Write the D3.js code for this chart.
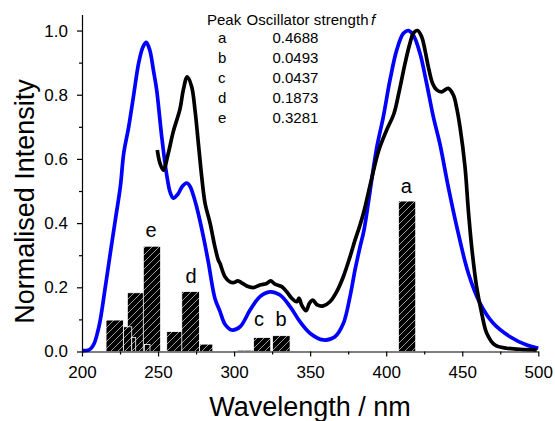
<!DOCTYPE html>
<html>
<head>
<meta charset="utf-8">
<script src="https://d3js.org/d3.v7.min.js"></script>
<style>
body { margin: 0; background: #fff; }
svg { display: block; font-family: "Liberation Sans", Arial, sans-serif; }
</style>
</head>
<body>
<svg id="chart" width="555" height="421"></svg>
<script>
// blue spectrum (nm, normalised)
var blueNm = [200, 204, 206, 208, 210, 212, 215.3, 218.6, 221.9, 225.2, 227.5, 230.7, 234, 237.3, 240, 242.2, 244.5, 247, 249.1, 252.4, 255.7, 258, 260, 263, 266, 268.8, 271, 273, 275.4, 279.8, 283, 287.4, 290.7, 294, 298.4, 303.9, 310.5, 317, 323.6, 330.2, 336.8, 343.3, 349.9, 358.6, 366.3, 371.8, 376.2, 379.5, 382.8, 385.4, 393.7, 398.1, 402.5, 406.9, 411.2, 414.5, 417.8, 422.2, 426.6, 431, 435.4, 440.8, 447.4, 454, 461.7, 470.4, 481.4, 492.4, 500];
var blueVal = [0.003, 0.004, 0.01, 0.025, 0.055, 0.098, 0.2, 0.306, 0.41, 0.513, 0.62, 0.7, 0.8, 0.9, 0.948, 0.963, 0.94, 0.875, 0.815, 0.67, 0.55, 0.495, 0.478, 0.49, 0.515, 0.525, 0.515, 0.49, 0.45, 0.358, 0.28, 0.165, 0.125, 0.085, 0.067, 0.077, 0.129, 0.171, 0.186, 0.176, 0.14, 0.093, 0.057, 0.036, 0.046, 0.087, 0.171, 0.254, 0.326, 0.378, 0.633, 0.731, 0.846, 0.939, 0.991, 1.0, 0.986, 0.929, 0.835, 0.731, 0.645, 0.513, 0.368, 0.244, 0.15, 0.088, 0.046, 0.02, 0.01];

// black spectrum
var blackNm = [249.5, 251.3, 253.5, 256.7, 260, 264.4, 266.6, 269.2, 272.1, 274.3, 276.5, 278.7, 280.9, 284.2, 287.4, 289.6, 290.7, 294, 297.3, 300, 302.5, 305, 308.3, 312.6, 317, 321.4, 324, 326.9, 331.3, 334.6, 337.9, 341.2, 342.7, 344.4, 347.3, 349.5, 351.7, 354.7, 358.6, 363, 367.4, 371.8, 376.2, 379.5, 381.7, 385, 390, 395, 400.3, 405, 408.5, 412.4, 415.6, 417.8, 420.5, 423.3, 425.5, 427.7, 430.5, 433.2, 436.5, 440.8, 444.1, 446.3, 448.5, 451.8, 454, 456.2, 459.5, 462.8, 466.1, 471.5, 479.2, 488, 499];
var blackVal = [0.628, 0.586, 0.565, 0.617, 0.685, 0.755, 0.815, 0.856, 0.825, 0.752, 0.649, 0.545, 0.462, 0.4, 0.326, 0.285, 0.275, 0.233, 0.217, 0.215, 0.22, 0.214, 0.204, 0.199, 0.207, 0.212, 0.22, 0.21, 0.202, 0.186, 0.166, 0.155, 0.166, 0.145, 0.127, 0.15, 0.16, 0.145, 0.142, 0.155, 0.186, 0.233, 0.295, 0.347, 0.378, 0.43, 0.53, 0.625, 0.69, 0.74, 0.81, 0.898, 0.96, 0.991, 1.0, 0.981, 0.939, 0.887, 0.835, 0.815, 0.809, 0.82, 0.8, 0.76, 0.7, 0.576, 0.44, 0.326, 0.2, 0.119, 0.057, 0.02, 0.01, 0.007, 0.005];

// calculated transitions, in drawing order
var barStart = [215.8, 229.8, 227.2, 232.7, 240.3, 241.0, 255.7, 265.6, 277.2, 301.8, 312.7, 325.2, 408.0];
var barEnd = [227.2, 241.4, 232.7, 235.3, 251.7, 244.7, 267.1, 277.2, 286.0, 312.7, 324.1, 336.8, 419.4];
var barHeight = [0.098, 0.183, 0.077, 0.044, 0.3281, 0.022, 0.062, 0.1873, 0.023, 0.004, 0.0437, 0.0493, 0.4688];

// peak letters and table
var peakNames = ["a", "b", "c", "d", "e"];
var peakStrength = ["0.4688", "0.0493", "0.0437", "0.1873", "0.3281"];
var labelNm = [413.3, 330.8, 316.4, 271.7, 245.4];
var labelVal = [0.493, 0.08, 0.08, 0.212, 0.356];

var xTicks = [200, 250, 300, 350, 400, 450, 500];
var xMinor = [225, 275, 325, 375, 425, 475];
var yTicks = [0, 0.2, 0.4, 0.6, 0.8, 1.0];
var yMinor = [0.1, 0.3, 0.5, 0.7, 0.9];

var svg = d3.select("#chart");

var x = d3.scaleLinear().domain([200, 500]).range([82, 538.3]);
var y = d3.scaleLinear().domain([0, 1.05]).range([351.5, 14.5]);

// hatch for the bars
var pat = svg.append("defs").append("pattern")
    .attr("id", "hatch")
    .attr("patternUnits", "userSpaceOnUse")
    .attr("width", 7)
    .attr("height", 7);
pat.append("rect").attr("width", 7).attr("height", 7).attr("fill", "#000");
pat.append("path")
    .attr("d", "M0,7 L7,0 M-1,1 L1,-1 M6,8 L8,6")
    .attr("stroke", "#c4c4c4")
    .attr("stroke-width", 0.8);

// bars
svg.append("g")
    .selectAll("rect")
    .data(barHeight)
    .enter()
    .append("rect")
    .attr("x", function (d, i) { return x(barStart[i]); })
    .attr("width", function (d, i) { return x(barEnd[i]) - x(barStart[i]); })
    .attr("y", function (d) { return y(d); })
    .attr("height", function (d) { return y(0) - y(d); })
    .attr("fill", "url(#hatch)")
    .attr("stroke", "#fff")
    .attr("stroke-width", 0.8);

// letters over the bars
svg.append("g")
    .selectAll("text")
    .data(peakNames)
    .enter()
    .append("text")
    .attr("x", function (d, i) { return x(labelNm[i]); })
    .attr("y", function (d, i) { return y(labelVal[i]); })
    .attr("text-anchor", "middle")
    .style("font-size", "20px")
    .text(function (d) { return d; });

var line = d3.line()
    .x(function (d) { return x(d[0]); })
    .y(function (d) { return y(d[1]); })
    .curve(d3.curveCatmullRom);

svg.append("path")
    .attr("d", line(d3.zip(blueNm, blueVal)))
    .attr("fill", "none")
    .attr("stroke", "#0000ff")
    .attr("stroke-width", 3.7)
    .attr("stroke-linejoin", "round");

svg.append("path")
    .attr("d", line(d3.zip(blackNm, blackVal)))
    .attr("fill", "none")
    .attr("stroke", "#000")
    .attr("stroke-width", 3.7)
    .attr("stroke-linejoin", "round");

// axes
svg.append("g")
    .attr("transform", "translate(0," + y(0) + ")")
    .call(d3.axisBottom(x).tickValues(xTicks).tickSize(5).tickSizeOuter(0).tickPadding(9).tickFormat(d3.format("d")));
svg.append("g")
    .attr("transform", "translate(0," + y(0) + ")")
    .call(d3.axisBottom(x).tickValues(xMinor).tickSize(3).tickFormat(""))
    .select(".domain").remove();

svg.append("g")
    .attr("transform", "translate(" + x(200) + ",0)")
    .call(d3.axisLeft(y).tickValues(yTicks).tickSize(5).tickSizeOuter(0).tickPadding(9).tickFormat(d3.format(".1f")));
svg.append("g")
    .attr("transform", "translate(" + x(200) + ",0)")
    .call(d3.axisLeft(y).tickValues(yMinor).tickSize(3).tickFormat(""))
    .select(".domain").remove();

svg.selectAll(".tick text")
    .style("font-size", "17px")
    .style("font-family", "'Liberation Sans', Arial, sans-serif")
    .attr("fill", "#000");
svg.selectAll(".domain, .tick line")
    .attr("stroke", "#000")
    .attr("stroke-width", 1.2);

// axis titles
svg.append("text")
    .attr("x", 310)
    .attr("y", 416)
    .attr("text-anchor", "middle")
    .style("font-size", "27px")
    .text("Wavelength / nm");

svg.append("text")
    .attr("transform", "translate(33.5,201.5) rotate(-90)")
    .attr("text-anchor", "middle")
    .style("font-size", "27px")
    .text("Normalised Intensity");

// oscillator strength table
var table = svg.append("g").style("font-size", "15px");
table.append("text").attr("x", 207).attr("y", 25).text("Peak");
table.append("text").attr("x", 246.5).attr("y", 25).attr("textLength", 122).text("Oscillator strength");
table.append("text").attr("x", 371).attr("y", 25).style("font-style", "italic").text("f");

table.selectAll(".pk")
    .data(peakNames)
    .enter()
    .append("text")
    .attr("x", 218)
    .attr("y", function (d, i) { return 43.3 + i * 20; })
    .text(function (d) { return d; });

table.selectAll(".val")
    .data(peakStrength)
    .enter()
    .append("text")
    .attr("x", 272.5)
    .attr("y", function (d, i) { return 43.3 + i * 20; })
    .text(function (d) { return d; });
</script>
</body>
</html>
